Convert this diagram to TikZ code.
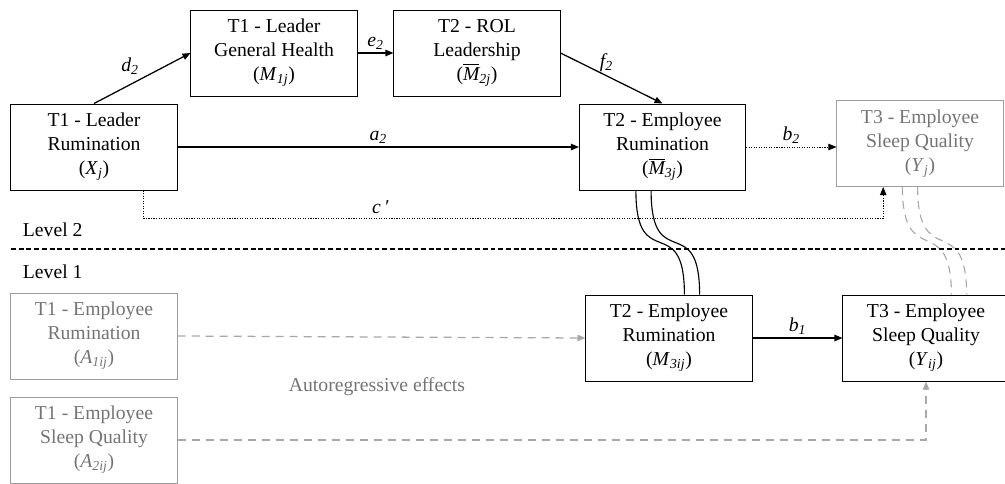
\documentclass[tikz,border=0pt]{standalone}
\usepackage{fontspec}
\setmainfont{Liberation Serif}
\usepackage{amsmath}
\usetikzlibrary{positioning, calc, arrows.meta}

\definecolor{boxgray}{HTML}{9C9C9C}
\definecolor{textgray}{HTML}{747474}
\definecolor{arrowgray}{HTML}{A8A8A8}

\tikzset{
  box/.style={draw, line width=0.7pt, minimum width=4.15cm, minimum height=2.15cm,
              align=center, inner sep=0pt, font=\fontsize{14}{17}\selectfont},
  graybox/.style={box, draw=boxgray, text=textgray},
  tip/.style={-{Triangle[length=2mm, width=1.6mm]}},
  link/.style={tip, line width=0.9pt},
  dotlink/.style={tip, line width=0.6pt, dash pattern=on 0.8pt off 1pt},
  graydash/.style={draw=arrowgray, line width=0.9pt, dash pattern=on 0.2cm off 0.15cm},
  graylink/.style={tip, graydash},
  lbl/.style={font=\fontsize{14}{17}\selectfont\itshape, inner sep=2pt},
}

\begin{document}
\begin{tikzpicture}[x=0.025cm, y=-0.025cm]
        \useasboundingbox (0,0) rectangle (1005,483);

        % level 2
        \node[box] at (94,147)    (X)   {T1 - Leader\\Rumination\\(\textit{X}\textsubscript{\textit{j}})};          %leader rumination
        \node[box] at (274,53)    (M1)  {T1 - Leader\\General Health\\(\textit{M}\textsubscript{\textit{1j}})};     %general health
        \node[box] at (477,53)    (M2)  {T2 - ROL\\Leadership\\(\(\overline{\textit{M}}\)\textsubscript{\textit{2j}})};  %rol leadership
        \node[box] at (662.5,147) (M3j) {T2 - Employee\\Rumination\\(\(\overline{\textit{M}}\)\textsubscript{\textit{3j}})}; %employee rumination
        \node[graybox] at (920,143.5) (Yj) {T3 - Employee\\Sleep Quality\\(\textit{Y}\textsubscript{\textit{j}})};   %sleep quality

        % level 1
        \node[graybox] at (94,336) (A1)   {T1 - Employee\\Rumination\\(\textit{A}\textsubscript{\textit{1ij}})};   %autoregressive 1
        \node[graybox] at (94,440) (A2)   {T1 - Employee\\Sleep Quality\\(\textit{A}\textsubscript{\textit{2ij}})}; %autoregressive 2
        \node[box] at (669,338)    (M3ij) {T2 - Employee\\Rumination\\(\textit{M}\textsubscript{\textit{3ij}})};   %employee rumination
        \node[box] at (926,338)    (Yij)  {T3 - Employee\\Sleep Quality\\(\textit{Y}\textsubscript{\textit{ij}})}; %sleep quality

        % between levels
        \foreach \s in {-0.19, 0.19} {
          \draw[line width=0.8pt] ([xshift=\s cm-0.475cm]M3j.south) .. controls +(0,85) and +(0,-85) .. ([xshift=\s cm+0.575cm]M3ij.north);
          \draw[graydash, line width=0.8pt] ([xshift=\s cm-0.25cm]Yj.south) .. controls +(0,85) and +(0,-85) .. ([xshift=\s cm+0.825cm]Yij.north);
        }

        \draw[line width=1pt, dash pattern=on 3.5pt off 2pt] (11,249) -- (1005,249); %level split
        \node[anchor=west, font=\fontsize{14}{17}\selectfont] at (18,230) (L2) {Level 2};
        \node[anchor=west, font=\fontsize{14}{17}\selectfont] at (18,272) (L1) {Level 1};

        % paths
        \draw[link] (X.north) -- (M1.west) node[lbl, midway, above left] {d\textsubscript{2}};
        \draw[link] (M1.east) -- (M2.west) node[lbl, midway, above] {e\textsubscript{2}};
        \draw[link] (M2.east) -- (M3j.north) node[lbl, pos=0.38, above right, inner sep=0pt] {f\textsubscript{2}};
        \draw[link] (X.east) -- (M3j.west) node[lbl, midway, above] {a\textsubscript{2}};
        \draw[dotlink] (M3j.east) -- (M3j.east -| Yj.west) node[lbl, midway, above] {b\textsubscript{2}};
        \draw[dotlink] ([xshift=-0.85cm]X.south east) -- ++(0,28) -| ([xshift=-0.92cm]Yj.south)
              node[lbl, pos=0.16, above, inner sep=3pt] {c\,′};
        \draw[link] (M3ij.east) -- (Yij.west) node[lbl, midway, above] {b\textsubscript{1}};

        \draw[graylink] (A1.east) -- (M3ij.west);
        \draw[graylink] (A2.east) -| (Yij.south);
        \node[text=textgray, font=\fontsize{14}{17}\selectfont] at (377,387) (auto) {Autoregressive effects};
\end{tikzpicture}
\end{document}
